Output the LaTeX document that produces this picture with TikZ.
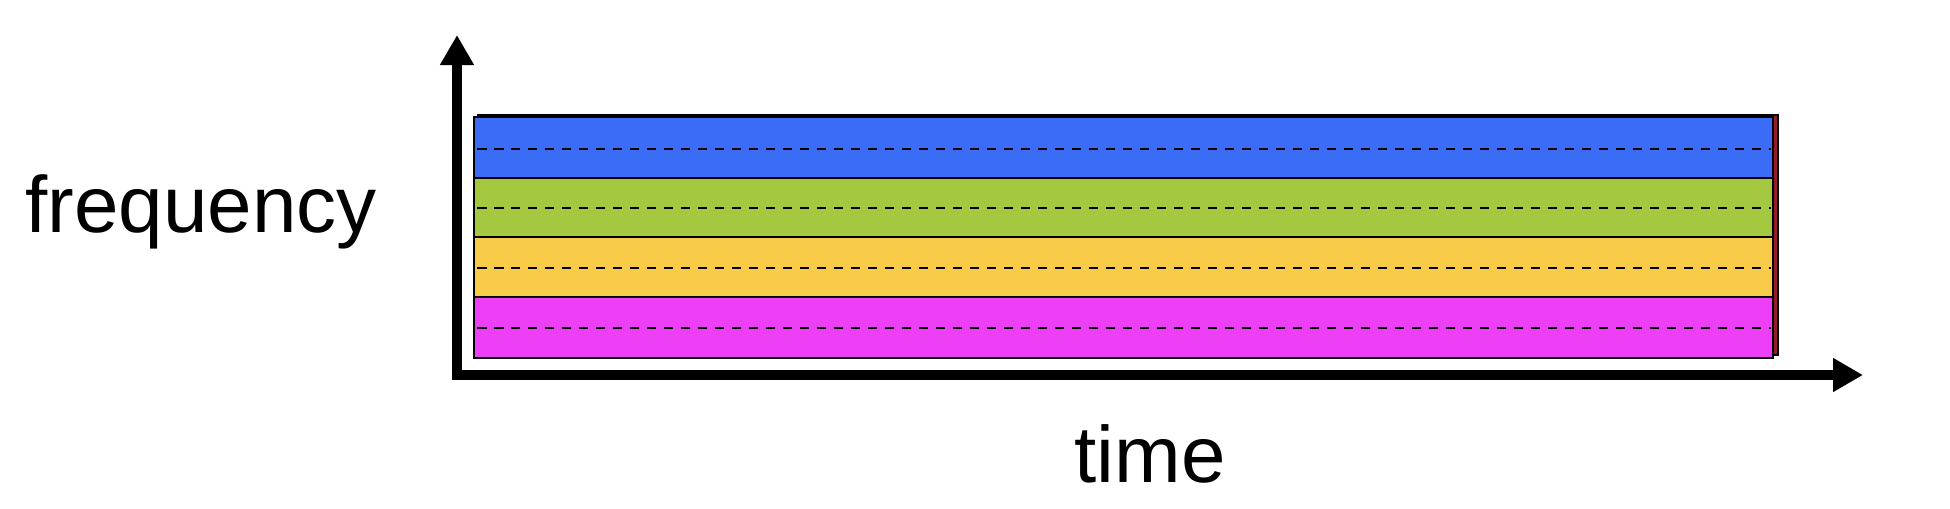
\documentclass[tikz,border=0pt]{standalone}
\usepackage{fontspec}
\setmainfont{Liberation Sans}
\definecolor{bandblue}{RGB}{59, 108, 246}
\definecolor{bandgreen}{RGB}{164, 200, 64}
\definecolor{bandyellow}{RGB}{248, 203, 72}
\definecolor{bandmagenta}{RGB}{236, 63, 246}
\definecolor{shadowred}{RGB}{150, 28, 40}
\usetikzlibrary{arrows.meta}
\tikzset{
	axis/.style={line width=0.2cm, -{Triangle[length=0.6cm, width=0.64cm]}},
	band/.style={draw=black, line width=1.5pt},
	mid/.style={line width=1.5pt, dash pattern=on 0.19cm off 0.15cm},
	label/.style={font=\fontsize{45.5}{50}\selectfont, inner sep=0pt, anchor=base},
}

\begin{document}
\begin{tikzpicture}[x=0.02cm, y=-0.02cm]
		\useasboundingbox (0,0) rectangle (1950,508);
		% shadow behind the bands
		\draw[band, fill=shadowred] (478,115) rectangle (1778,355);
		% the four bands
		\draw[band, fill=bandblue] (474,117) rectangle (1773,178);
		\draw[band, fill=bandgreen] (474,178) rectangle (1773,237);
		\draw[band, fill=bandyellow] (474,237) rectangle (1773,297);
		\draw[band, fill=bandmagenta] (474,297) rectangle (1773,358);
		\foreach \y in {149, 208, 268, 328}
			\draw[mid] (477,\y) -- (1771,\y);
		% axes
		\coordinate (origin) at (457,375);
		\coordinate (ftip) at (457,35);
		\coordinate (ttip) at (1863,375);
		\draw[axis] ([yshift=0.1cm]origin) -- (ftip);
		\draw[axis] ([xshift=-0.1cm]origin) -- (ttip);
		% labels
		\node[label] (freq) at (201,232) {frequency};
		\node[label] (time) at (1150,482) {time};
	\end{tikzpicture}
\end{document}
